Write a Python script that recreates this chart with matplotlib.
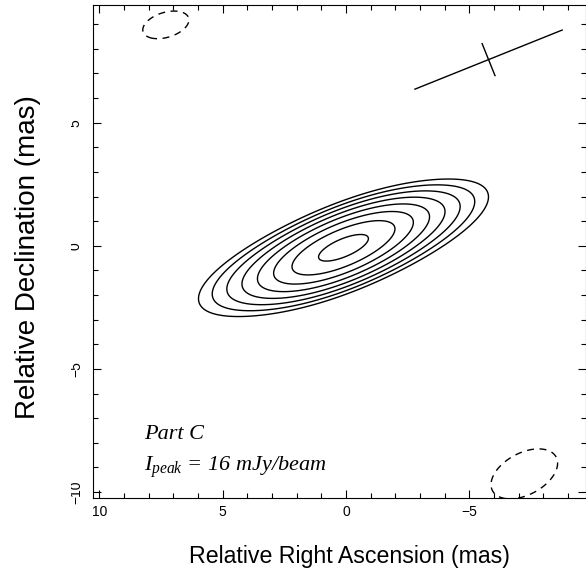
import numpy as np
import matplotlib
matplotlib.use("Agg")
import matplotlib.pyplot as plt
from matplotlib.ticker import MultipleLocator
from matplotlib.transforms import Bbox

plt.rcParams['font.family'] = ['Liberation Sans', 'DejaVu Sans']
plt.rcParams['mathtext.fontset'] = 'custom'
plt.rcParams['mathtext.it'] = 'Liberation Serif:italic'
plt.rcParams['mathtext.rm'] = 'Liberation Serif'

# Gaussian components of the map (mJy/beam, mas, deg)
# core, extended halo, two negative sidelobes
comp_ra = [0.10, 0.10, 7.30, -7.23]
comp_dec = [-0.08, -0.08, 8.97, -9.26]
comp_amp = [12.0, 4.0, -0.2, -0.2]
comp_sig_u = [1.5, 2.3, 0.82, 1.24]
comp_sig_v = [0.52, 0.63, 0.43, 0.72]
comp_angle = [23.5, 21.0, 17.0, 28.0]

# contour levels = base * multipliers
contour_base = 0.1
contour_mult = [-1, 1, 2, 4, 8, 16, 32, 64, 128]

# restoring beam cross
beam_ra, beam_dec = -5.78, 7.56
beam_major, beam_minor, beam_angle = 6.43, 1.40, 21.9

peak_label = 16

# build the map
ra = np.linspace(10.5, -10.0, 600)
dec = np.linspace(-10.5, 10.0, 600)
RA, DEC = np.meshgrid(ra, dec)
img = np.zeros_like(RA)
for x0, y0, a, su, sv, ang in zip(comp_ra, comp_dec, comp_amp, comp_sig_u, comp_sig_v, comp_angle):
    t = np.radians(ang)
    u = -(RA - x0) * np.cos(t) + (DEC - y0) * np.sin(t)
    v = (RA - x0) * np.sin(t) + (DEC - y0) * np.cos(t)
    img += a * np.exp(-0.5 * (u**2 / su**2 + v**2 / sv**2))

levels = [contour_base * m for m in contour_mult]
styles = [(0, (5, 4)) if m < 0 else '-' for m in contour_mult]

fig = plt.figure(figsize=(5.86, 5.73), dpi=100)
ax = fig.add_axes([0.158, 0.1304, 0.842, 0.861])

ax.contour(RA, DEC, img, levels=levels, colors='black', linewidths=1.0, linestyles=styles)

# beam cross
t = np.radians(beam_angle)
ax.plot([beam_ra + 0.5 * beam_major * np.cos(t), beam_ra - 0.5 * beam_major * np.cos(t)],
        [beam_dec - 0.5 * beam_major * np.sin(t), beam_dec + 0.5 * beam_major * np.sin(t)],
        color='black', lw=1.0)
ax.plot([beam_ra + 0.5 * beam_minor * np.sin(t), beam_ra - 0.5 * beam_minor * np.sin(t)],
        [beam_dec + 0.5 * beam_minor * np.cos(t), beam_dec - 0.5 * beam_minor * np.cos(t)],
        color='black', lw=1.0)

ax.set_xlim(10.27, -9.73)
ax.set_ylim(-10.25, 9.78)

ax.xaxis.set_major_locator(MultipleLocator(5))
ax.xaxis.set_minor_locator(MultipleLocator(1))
ax.yaxis.set_major_locator(MultipleLocator(5))
ax.yaxis.set_minor_locator(MultipleLocator(1))
ax.tick_params(which='both', direction='in', top=True, right=True, width=0.8, labelsize=10)
ax.tick_params(which='major', length=6)
ax.tick_params(which='minor', length=3.5)
ax.tick_params(axis='x', pad=5)
ax.tick_params(axis='y', pad=7)
# y tick labels are rotated and partly cut off in the original
cut = Bbox.from_extents(71, 0, 92, 573)
for lab in ax.get_yticklabels():
    lab.set_rotation(90)
    lab.set_va('center')
    lab.set_clip_on(True)
    lab.set_clip_box(cut)

for s in ax.spines.values():
    s.set_linewidth(0.8)

ax.set_xlabel('Relative Right Ascension (mas)', fontsize=16.7)
ax.xaxis.set_label_coords(0.5196, -0.095)
ax.set_ylabel('Relative Declination (mas)', fontsize=20)
ax.yaxis.set_label_coords(-0.105, 0.489)

ax.text(8.2, -7.85, 'Part C', fontsize=16, family='Liberation Serif', style='italic')
ax.text(8.2, -9.15, r'$I_{peak}$ = %d mJy/beam' % peak_label, fontsize=16,
        family='Liberation Serif', style='italic')

fig.savefig('out.png', dpi=100)
